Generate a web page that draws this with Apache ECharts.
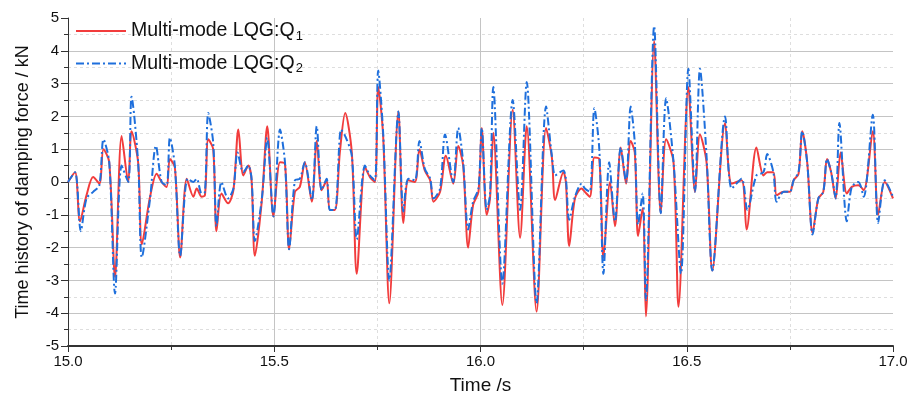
<!DOCTYPE html>
<html>
<head>
<meta charset="utf-8">
<script src="https://cdn.jsdelivr.net/npm/echarts@6/dist/echarts.min.js"></script>
<style>
  html, body { margin: 0; padding: 0; background: #fff; }
  #chart { width: 915px; height: 405px; }
</style>
</head>
<body>
<div id="chart"></div>
<script>
// Damping force time history, two LQG weighting cases
const timeQ1 = [15.000,15.017,15.029,15.045,15.061,15.076,15.086,15.100,15.114,15.130,15.146,15.154,15.170,15.179,15.199,15.215,15.227,15.239,15.247,15.259,15.272,15.288,15.304,15.312,15.324,15.332,15.340,15.352,15.360,15.372,15.388,15.401,15.413,15.425,15.437,15.445,15.453,15.470,15.483,15.498,15.514,15.526,15.536,15.550,15.562,15.574,15.591,15.603,15.615,15.627,15.635,15.647,15.659,15.672,15.688,15.700,15.720,15.732,15.744,15.752,15.764,15.779,15.801,15.813,15.825,15.841,15.852,15.865,15.878,15.886,15.902,15.916,15.934,15.946,15.958,15.970,15.982,15.995,16.003,16.015,16.023,16.031,16.053,16.078,16.096,16.112,16.136,16.159,16.173,16.181,16.201,16.207,16.215,16.229,16.245,16.253,16.265,16.276,16.288,16.298,16.314,16.326,16.340,16.353,16.364,16.374,16.382,16.393,16.401,16.421,16.437,16.450,16.468,16.480,16.504,16.520,16.532,16.548,16.562,16.593,16.609,16.633,16.645,16.669,16.686,16.695,16.710,16.718,16.735,16.750,16.759,16.771,16.780,16.792,16.805,16.819,16.831,16.840,16.850,16.861,16.873,16.888,16.900,16.916,16.929,16.951,16.964,16.980,17.000];
const forceQ1 = [0,0.3,-1.2,-0.4,0.15,-0.05,1.0,0.6,-2.9,1.4,0.0,1.55,0.6,-1.9,-0.45,0.25,0.0,-0.15,0.7,0.45,-2.3,0.1,-0.45,-0.2,-0.45,-0.4,1.3,1.0,-1.5,-0.35,-0.65,-0.25,1.6,0.2,0.5,0.05,-2.25,-0.55,1.7,-1.05,0.6,0.55,-2.05,-0.3,-0.15,0.6,-0.6,1.25,-0.25,0.05,-0.85,-0.85,0.9,2.1,0.9,-2.8,0.45,0.15,0.0,2.9,1.4,-3.7,2.15,-1.25,0.05,0.0,1.0,0.35,0.05,-0.6,-0.3,0.8,-0.05,1.1,0.5,-2.0,-0.7,-0.3,1.65,-1.0,-0.5,1.5,-3.75,2.2,-1.7,1.7,-3.95,1.65,0.75,-0.55,0.3,0.0,-1.95,-0.5,-0.2,-0.3,-0.45,0.75,0.7,-2.3,0.0,-1.35,1.05,-0.05,1.25,0.9,-1.65,-0.8,-4.1,4.3,-0.95,1.3,0.6,-3.8,2.9,-0.3,1.45,0.6,-2.7,1.8,-0.05,0.05,-1.45,1.05,0.2,0.3,0.3,-0.4,-0.3,-0.3,0.05,0.25,1.55,0.6,-1.55,-0.5,-0.3,0.7,0.3,-0.5,0.9,-0.35,-0.15,-0.1,-0.25,1.55,-1.0,0.0,-0.5];

const timeQ2 = [15.000,15.017,15.031,15.045,15.061,15.076,15.086,15.100,15.114,15.130,15.146,15.154,15.170,15.179,15.199,15.213,15.227,15.239,15.247,15.259,15.272,15.290,15.304,15.312,15.324,15.332,15.340,15.352,15.360,15.372,15.388,15.401,15.411,15.425,15.437,15.445,15.453,15.470,15.483,15.498,15.514,15.526,15.536,15.550,15.562,15.574,15.591,15.603,15.615,15.627,15.635,15.647,15.662,15.672,15.688,15.700,15.720,15.732,15.744,15.752,15.764,15.779,15.801,15.813,15.825,15.841,15.852,15.865,15.878,15.886,15.902,15.914,15.934,15.946,15.958,15.970,15.982,15.995,16.003,16.015,16.023,16.031,16.053,16.078,16.096,16.112,16.136,16.159,16.173,16.181,16.193,16.201,16.207,16.215,16.229,16.245,16.253,16.265,16.276,16.288,16.298,16.312,16.326,16.340,16.353,16.364,16.374,16.382,16.393,16.401,16.421,16.437,16.450,16.468,16.486,16.504,16.520,16.532,16.548,16.562,16.593,16.609,16.633,16.647,16.669,16.686,16.695,16.710,16.718,16.735,16.750,16.759,16.771,16.780,16.792,16.805,16.819,16.831,16.840,16.850,16.861,16.870,16.888,16.900,16.916,16.929,16.951,16.964,16.980,17.000];
const forceQ2 = [0,0.3,-1.5,-0.5,-0.3,-0.1,1.3,0.6,-3.4,0.5,0.0,2.6,0.6,-2.3,-0.5,1.1,0.0,-0.1,1.35,0.5,-2.25,0.1,0.0,0.1,-0.35,-0.3,2.1,1.2,-1.35,0.0,-0.5,-0.2,0.9,0.3,0.5,0.1,-1.8,-0.5,1.35,-1.05,1.6,0.6,-2.05,0.05,0.1,0.6,-0.55,1.7,-0.25,0.1,-0.85,-0.85,1.6,1.4,0.8,-1.75,0.5,0.2,0.05,3.4,1.5,-3.0,2.15,-0.9,0.1,0.05,1.25,0.4,0.1,-0.5,-0.2,1.45,0.0,1.65,0.6,-1.45,-0.6,-0.2,1.65,-0.85,-0.4,2.9,-3.1,2.5,-0.85,3.05,-3.7,2.3,0.8,0.2,0.3,0.35,0.1,-1.15,-0.45,-0.05,-0.2,-0.3,2.25,1.0,-2.8,0.6,-1.2,1.05,0.0,2.3,1.2,-1.3,-0.35,-3.6,4.75,-0.95,2.55,0.6,-2.8,3.45,-0.3,3.45,0.8,-2.7,2.0,-0.2,0.1,-0.85,0.2,0.3,0.85,0.3,-0.6,-0.3,-0.3,0.05,0.3,1.55,0.6,-1.6,-0.5,-0.3,0.7,0.3,-0.5,1.8,-1.2,-0.15,0.0,-0.45,2.05,-1.25,0.05,-0.45];

const xTicks = { min: 15, max: 17, step: 0.5 };
const yTicks = { min: -5, max: 5, step: 1 };

const pairs = (ts, vs) => ts.map((t, i) => [t, vs[i]]);

const chart = echarts.init(document.getElementById('chart'), null, { renderer: 'canvas' });
const font = 'Arial, "Liberation Sans", sans-serif';

chart.setOption({
  animation: false,
  backgroundColor: '#fff',
  grid: { left: 68, right: 22, top: 18, bottom: 59, containLabel: false },
  legend: {
    orient: 'vertical',
    left: 70,
    top: 16,
    itemWidth: 50,
    itemHeight: 14,
    itemGap: 11,
    itemStyle: { opacity: 0 },
    textStyle: {
      fontFamily: font, fontSize: 19.5, color: '#111',
      rich: { sub: { fontFamily: font, fontSize: 13, color: '#111', verticalAlign: 'bottom', padding: [10, 0, 0, 1] } }
    },
    formatter: name => name.replace(/(\d)$/, '{sub|$1}')
  },
  xAxis: {
    type: 'value',
    min: xTicks.min, max: xTicks.max, interval: xTicks.step,
    name: 'Time /s', nameLocation: 'middle', nameGap: 30,
    nameTextStyle: { fontFamily: font, fontSize: 19, color: '#111' },
    axisLine: { show: true, onZero: false, lineStyle: { color: '#333', width: 2 } },
    axisTick: { show: true, inside: false, length: 6, lineStyle: { color: '#333' } },
    minorTick: { show: true, splitNumber: 2, length: 4, lineStyle: { color: '#333' } },
    axisLabel: { fontFamily: font, fontSize: 15, color: '#111', margin: 8, formatter: v => v.toFixed(1) },
    splitLine: { show: true, showMinLine: false, showMaxLine: false, lineStyle: { color: '#c4c4c4', width: 1 } },
    minorSplitLine: { show: true, lineStyle: { color: '#dedede', width: 1, type: [3, 3] } }
  },
  yAxis: {
    type: 'value',
    min: yTicks.min, max: yTicks.max, interval: yTicks.step,
    name: 'Time history of damping force / kN', nameLocation: 'middle', nameGap: 36,
    nameTextStyle: { fontFamily: font, fontSize: 18, color: '#111' },
    axisLine: { show: true, lineStyle: { color: '#333', width: 1 } },
    axisTick: { show: true, inside: false, length: 7, lineStyle: { color: '#333' } },
    minorTick: { show: true, splitNumber: 2, length: 4, lineStyle: { color: '#333' } },
    axisLabel: { fontFamily: font, fontSize: 15, color: '#111', margin: 9 },
    splitLine: { show: true, showMinLine: false, showMaxLine: false, lineStyle: { color: '#c4c4c4', width: 1 } },
    minorSplitLine: { show: true, lineStyle: { color: '#dedede', width: 1, type: [3, 3] } }
  },
  series: [
    {
      name: 'Multi-mode LQG:Q1',
      type: 'line',
      data: pairs(timeQ1, forceQ1),
      smooth: 0.3,
      symbol: 'none',
      lineStyle: { color: '#f23c3c', width: 2 },
      itemStyle: { color: '#f23c3c' },
      z: 2
    },
    {
      name: 'Multi-mode LQG:Q2',
      type: 'line',
      data: pairs(timeQ2, forceQ2),
      smooth: 0.3,
      symbol: 'none',
      lineStyle: { color: '#1e6fdc', width: 2, type: [8, 3, 2, 3] },
      itemStyle: { color: '#1e6fdc' },
      z: 3
    }
  ]
});
</script>
</body>
</html>
